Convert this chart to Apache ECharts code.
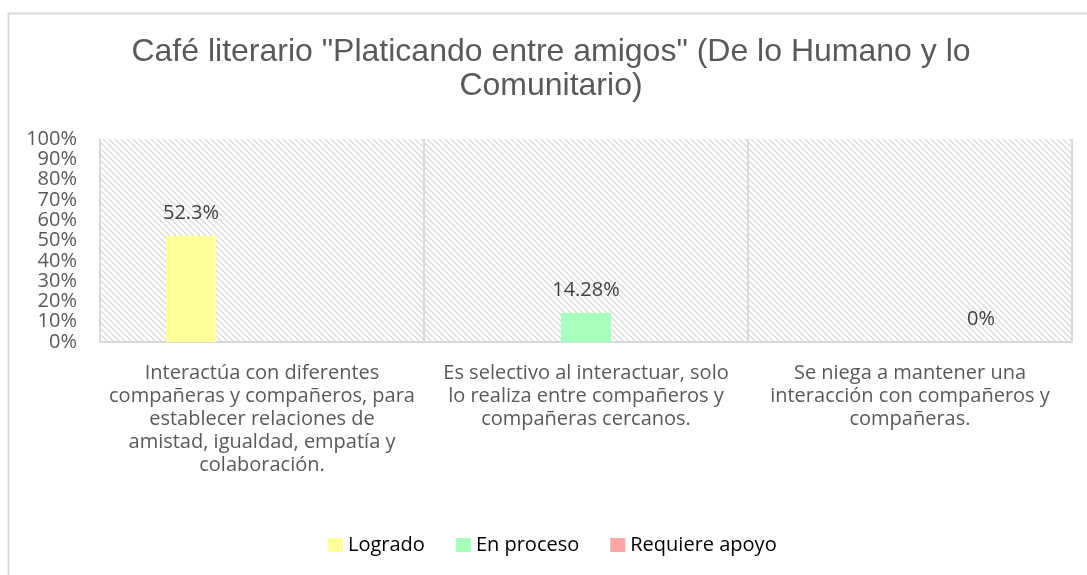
<!DOCTYPE html>
<html><head><meta charset="utf-8">
<script src="https://cdn.jsdelivr.net/npm/echarts@6/dist/echarts.min.js"></script>
<style>html,body{margin:0;padding:0;background:#fff}#c{width:1087px;height:575px}</style>
</head><body><div id="c"></div>
<script>
const titleText = 'Café literario "Platicando entre amigos" (De lo Humano y lo\nComunitario)';
const categories = [
  'Interactúa con diferentes\ncompañeras y compañeros, para\nestablecer relaciones de\namistad, igualdad, empatía y\ncolaboración.',
  'Es selectivo al interactuar, solo\nlo realiza entre compañeros y\ncompañeras cercanos.',
  'Se niega a mantener una\ninteracción con compañeros y\ncompañeras.'
];
const seriesNames = ['Logrado', 'En proceso', 'Requiere apoyo'];
const logrado = [52.3, null, null];
const enProceso = [null, 14.28, null];
const requiereApoyo = [null, null, 0];
const yTicks = [0,10,20,30,40,50,60,70,80,90,100];

const cv = document.createElement('canvas');
cv.width = 6; cv.height = 6;
const cx = cv.getContext('2d');
cx.fillStyle = '#ffffff'; cx.fillRect(0,0,6,6);
cx.strokeStyle = '#d4d4d4'; cx.lineWidth = 1.2;
cx.beginPath();
cx.moveTo(-1,-1); cx.lineTo(7,7);
cx.moveTo(-4,2); cx.lineTo(4,10);
cx.moveTo(2,-4); cx.lineTo(10,4);
cx.stroke();

const font = '"Open Sans", Lato, sans-serif';
const colors = ['#ffff99', '#a6ffbb', '#ffa5a5'];
const chart = echarts.init(document.getElementById('c'), null, {renderer:'canvas'});
const mk = (name, data, color) => ({
  name, type:'bar', data, barWidth:50, barGap:'42%',
  itemStyle:{color},
  label:{show:true, position:'top', distance:13, color:'#404040', fontSize:20, fontFamily:font,
    formatter:p => p.value + '%'}
});
chart.setOption({
  animation:false,
  graphic:[{type:'rect', left:6, top:11, shape:{width:1100, height:600}, style:{fill:'none', stroke:'#d9d9d9', lineWidth:2}, z:-10}],
  title:{text:titleText, left:546, textAlign:'center', top:30, textStyle:{fontFamily:'"Liberation Sans", Arial, sans-serif', fontWeight:'normal', fontSize:32, color:'#595959', lineHeight:34}},
  legend:{top:530, left:323, itemWidth:15, itemHeight:14, itemGap:31, icon:'rect',
    textStyle:{fontFamily:font, fontSize:20, color:'#000'}, data:seriesNames},
  grid:{left:100, right:15, top:139, bottom:233, show:true, backgroundColor:{image:cv, repeat:'repeat'}, borderWidth:0},
  xAxis:{type:'category', data:categories,
    axisLine:{show:true, lineStyle:{color:'#d9d9d9', width:2}}, axisTick:{show:false},
    splitLine:{show:true, lineStyle:{color:'#d9d9d9', width:2}},
    axisLabel:{interval:0, fontFamily:font, fontSize:20, color:'#595959', lineHeight:23, margin:20}},
  yAxis:{type:'value', min:0, max:100, interval:10,
    axisLine:{show:false}, axisTick:{show:false}, splitLine:{show:false},
    axisLabel:{formatter:v => yTicks.includes(v) ? v + '%' : '', fontFamily:font, fontSize:20, color:'#595959', margin:23}},
  series:[mk(seriesNames[0], logrado, colors[0]), mk(seriesNames[1], enProceso, colors[1]), mk(seriesNames[2], requiereApoyo, colors[2])]
});
</script></body></html>
